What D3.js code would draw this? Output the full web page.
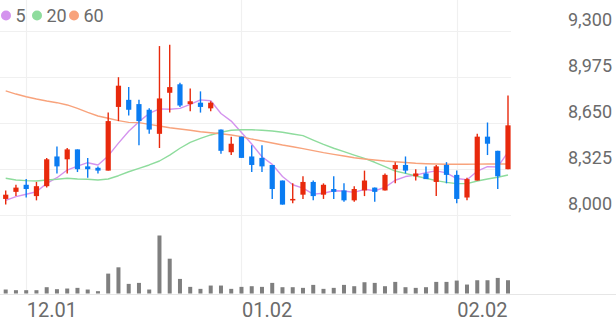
<!DOCTYPE html>
<html>
<head>
<meta charset="utf-8">
<script src="https://cdn.jsdelivr.net/npm/d3@7/dist/d3.min.js"></script>
<style>
  html, body { margin: 0; padding: 0; background: #fff; }
  svg { display: block; font-family: Roboto, "Noto Sans", sans-serif; }
</style>
</head>
<body>
<svg id="chart" width="616" height="321"></svg>
<script>
// ---- data ----
const dates = ["11.29","11.30","12.01","12.02","12.05","12.06","12.07","12.08","12.09","12.12",
  "12.13","12.14","12.15","12.16","12.19","12.20","12.21","12.22","12.23","12.26",
  "12.27","12.28","12.29","01.02","01.03","01.04","01.05","01.06","01.09","01.10",
  "01.11","01.12","01.13","01.16","01.17","01.18","01.19","01.20","01.25","01.26",
  "01.27","01.30","01.31","02.01","02.02","02.03","02.06","02.07","02.08","02.09"];
const open  = [8110,8160,8210,8130,8200,8410,8390,8460,8340,8330, 8310,8760,8810,8780,8740,8570,8860,8920,8780,8790,
               8750,8600,8440,8550,8410,8400,8350,8240,8100,8140, 8230,8140,8180,8170,8100,8170,8190,8170,8320,8350,
               8270,8290,8230,8350,8280,8120,8240,8550,8450,8320];
const high  = [8170,8210,8250,8230,8400,8480,8470,8460,8400,8340, 8720,8970,8900,8810,8750,9190,9200,8930,8890,8870,
               8800,8600,8550,8550,8490,8490,8350,8240,8220,8270, 8240,8220,8270,8220,8200,8310,8190,8290,8370,8410,
               8320,8340,8350,8370,8310,8260,8570,8650,8450,8840];
const low   = [8070,8130,8120,8100,8190,8290,8290,8300,8260,8290, 8310,8660,8700,8490,8570,8470,8720,8760,8730,8720,
               8730,8430,8420,8400,8300,8300,8110,8070,8080,8110, 8100,8110,8110,8090,8090,8130,8090,8170,8220,8290,
               8240,8250,8130,8220,8080,8100,8240,8420,8180,8320];
const close = [8140,8190,8180,8200,8390,8340,8460,8320,8320,8310, 8660,8910,8740,8660,8600,8820,8900,8770,8800,8760,
               8790,8450,8500,8400,8350,8340,8180,8070,8110,8230, 8130,8210,8160,8100,8180,8240,8160,8280,8350,8310,
               8290,8250,8340,8280,8110,8250,8550,8500,8270,8630];
const volume = [120,100,100,100,190,130,150,170,120,70, 600,790,290,320,120,1750,1050,440,200,140,
                240,240,140,200,220,200,320,190,190,170, 260,140,170,260,220,340,320,220,350,190,
                170,190,350,350,390,270,400,400,470,400];
const ma5  = [8100,8126,8143,8161,8220,8260,8314,8342,8366,8350, 8414,8504,8588,8656,8714,8746,8744,8750,8778,8810,
              8804,8714,8660,8580,8498,8408,8354,8268,8210,8186, 8144,8150,8168,8166,8156,8178,8168,8192,8242,8268,
              8278,8296,8308,8294,8254,8246,8306,8338,8336,8440];
const ma20 = [8256,8244,8239,8237,8244,8249,8256,8251,8249,8244, 8251,8274,8302,8326,8350,8378,8420,8468,8510,8538,
              8562,8581,8595,8599,8599,8595,8590,8581,8569,8557, 8526,8496,8468,8444,8420,8397,8369,8338,8307,8291,
              8272,8256,8239,8227,8218,8218,8237,8251,8263,8279];
const ma60 = [8873,8851,8832,8816,8802,8790,8774,8750,8722,8696, 8680,8663,8651,8649,8637,8625,8613,8604,8595,8585,
              8578,8571,8562,8550,8533,8519,8505,8491,8479,8465, 8451,8437,8425,8413,8401,8392,8385,8378,8373,8367,
              8362,8359,8357,8355,8355,8355,8356,8357,8357,8357];
const priceTicks = [8000, 8325, 8650, 8975, 9300];
const dateTicks = ["12.01", "01.02", "02.02"];
const maNames = ["5", "20", "60"];

// ---- styles ----
const UP = "#e8290c", DOWN = "#0a7cf2";
const MA_COLORS = ["#d493ee", "#8edc9d", "#f8a37c"];

const svg = d3.select("#chart");

const x = d3.scalePoint().domain(dates).range([5.7, 508]);
const y = d3.scaleLinear().domain([8000, 9300]).range([214.5, 30.5]);
const yv = d3.scaleLinear().domain([0, 1750]).range([293.5, 235.5]);

// horizontal grid
svg.append("g").selectAll("line").data(priceTicks).join("line")
  .attr("x1", 0).attr("x2", 511)
  .attr("y1", d => Math.round(y(d)) + 0.5).attr("y2", d => Math.round(y(d)) + 0.5)
  .attr("stroke", "#f0f0f0").attr("stroke-width", 1.2);

// vertical grid
svg.append("g").selectAll("line").data(dateTicks).join("line")
  .attr("x1", d => Math.round(x(d)) + 0.5).attr("x2", d => Math.round(x(d)) + 0.5)
  .attr("y1", 0).attr("y2", 294)
  .attr("stroke", "#f0f0f0").attr("stroke-width", 1.2);

// volume bars
svg.append("g").selectAll("rect").data(dates).join("rect")
  .attr("x", d => x(d) - 2)
  .attr("width", 4)
  .attr("y", (d, i) => yv(volume[i]))
  .attr("height", (d, i) => yv(0) - yv(volume[i]))
  .attr("fill", "#7f7f7f");

// baseline
svg.append("line").attr("x1", 0).attr("x2", 616).attr("y1", 294.5).attr("y2", 294.5)
  .attr("stroke", "#e6e6e6").attr("stroke-width", 1.2);

// MA lines
[ma5, ma20, ma60].forEach((arr, k) => {
  svg.append("path")
    .datum(arr)
    .attr("fill", "none")
    .attr("stroke", MA_COLORS[k])
    .attr("stroke-width", 1.4)
    .attr("stroke-linejoin", "round")
    .attr("d", d3.line().x((d, i) => x(dates[i])).y(d => y(d)));
});

// candles
const cg = svg.append("g");
dates.forEach((d, i) => {
  const up = close[i] >= open[i];
  const col = up ? UP : DOWN;
  const cx = x(d);
  cg.append("line")
    .attr("x1", cx).attr("x2", cx)
    .attr("y1", y(high[i])).attr("y2", y(low[i]))
    .attr("stroke", col).attr("stroke-width", 1.4);
  const top = y(Math.max(open[i], close[i]));
  const bot = y(Math.min(open[i], close[i]));
  cg.append("rect")
    .attr("x", cx - 2.6).attr("width", 5.2)
    .attr("y", top).attr("height", Math.max(1.5, bot - top))
    .attr("fill", col);
});

// right price axis (labels only)
const yAxis = d3.axisLeft(y).tickValues(priceTicks).tickSize(0).tickPadding(0)
  .tickFormat(d3.format(","));
const ya = svg.append("g").attr("transform", "translate(612,0)").call(yAxis);
ya.select(".domain").remove();
ya.selectAll("text").attr("dy", "-5.5px").attr("fill", "#6b6b6b")
  .style("font-size", "18px").style("font-family", "Roboto, sans-serif");

// bottom date axis (labels only)
const xAxis = d3.axisBottom(x).tickValues(dateTicks).tickSize(0).tickPadding(0);
const xa = svg.append("g").attr("transform", "translate(0,294)").call(xAxis);
xa.select(".domain").remove();
xa.selectAll("text").attr("text-anchor", "start").attr("dy", 0).attr("y", 22.5)
  .attr("fill", "#6b6b6b").style("font-size", "20px").style("font-family", "Roboto, sans-serif");

// legend
const legX = [6, 37, 74];
const lg = svg.append("g");
maNames.forEach((n, k) => {
  lg.append("circle").attr("cx", legX[k]).attr("cy", 15.5).attr("r", 5).attr("fill", MA_COLORS[k]);
  lg.append("text").attr("x", legX[k] + 9.5).attr("y", 21.7).text(n)
    .attr("fill", "#6b6b6b").style("font-size", "18px");
});
</script>
</body>
</html>
